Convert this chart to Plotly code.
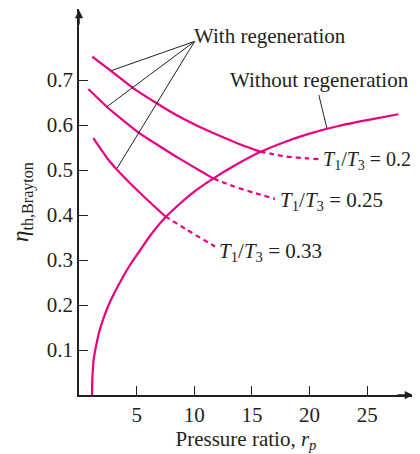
import plotly.graph_objects as go

# Pressure ratio / efficiency
rp_no_regen = [1.13, 1.14, 1.17, 1.21, 1.27, 1.34, 1.41, 1.55, 1.70, 1.9, 2.13, 2.57,
               3.15, 3.87, 4.45, 5.17, 6.2, 7.5, 8.7, 10.0, 11.7, 13.5, 15.7, 17.8,
               20.0, 22.5, 25.0, 27.7]
eta_no_regen = [0.0, 0.02, 0.042, 0.06, 0.078, 0.09, 0.10, 0.118, 0.135, 0.153, 0.171, 0.200,
                0.231, 0.265, 0.290, 0.317, 0.355, 0.395, 0.424, 0.452, 0.482, 0.510, 0.540, 0.562,
                0.581, 0.598, 0.611, 0.624]

# With regeneration, solid part (left of the crossing) and dashed part (right of it)
rp_r20_solid = [1.15, 2.8, 4.7, 6.7, 8.6, 10.3, 12.5, 14.0, 15.72]
eta_r20_solid = [0.752, 0.720, 0.682, 0.649, 0.620, 0.598, 0.573, 0.557, 0.541]
rp_r20_dash = [15.72, 16.7, 18.0, 19.8, 20.9]
eta_r20_dash = [0.541, 0.536, 0.530, 0.526, 0.524]

rp_r25_solid = [0.81, 2.48, 3.8, 5.14, 7.0, 8.61, 10.2, 11.67]
eta_r25_solid = [0.680, 0.639, 0.611, 0.584, 0.553, 0.527, 0.503, 0.481]
rp_r25_dash = [11.67, 13.4, 15.1, 17.0]
eta_r25_dash = [0.481, 0.464, 0.450, 0.436]

rp_r33_solid = [1.24, 2.55, 3.58, 5.3, 7.48]
eta_r33_solid = [0.571, 0.523, 0.493, 0.449, 0.397]
rp_r33_dash = [7.48, 9.37, 11.8]
eta_r33_dash = [0.397, 0.367, 0.330]

ratio_labels = ["0.2", "0.25", "0.33"]
ratio_label_x = [21.0, 17.3, 12.0]
ratio_label_y = [0.521, 0.432, 0.317]
ratio_label_size = [20, 21, 21]

# Leader lines: common start of the "With regeneration" pointers, and their ends
with_regen_from = (10.03, 0.786)
with_regen_to_x = [2.8, 2.43, 3.3]
with_regen_to_y = [0.721, 0.641, 0.504]
without_regen_line_x = [20.8, 21.5]
without_regen_line_y = [0.667, 0.593]

x_ticks = [5, 10, 15, 20, 25]
y_ticks = [0.1, 0.2, 0.3, 0.4, 0.5, 0.6, 0.7]

MAGENTA = "#e6007e"
INK = "#231f20"
FONT = "Liberation Serif, Times New Roman, serif"


def curve(x, y, dashed=False) -> go.Scatter:
    """One magenta line segment"""
    return go.Scatter(
        x=x,
        y=y,
        mode="lines",
        line=dict(color=MAGENTA, width=2.2, shape="spline", smoothing=0.6,
                  dash="5px,4px" if dashed else "solid"),
        hoverinfo="skip",
        showlegend=False,
    )


def make_plot() -> go.Figure:
    fig = go.Figure()

    fig.add_trace(curve(rp_no_regen, eta_no_regen))
    fig.add_trace(curve(rp_r20_solid, eta_r20_solid))
    fig.add_trace(curve(rp_r20_dash, eta_r20_dash, dashed=True))
    fig.add_trace(curve(rp_r25_solid, eta_r25_solid))
    fig.add_trace(curve(rp_r25_dash, eta_r25_dash, dashed=True))
    fig.add_trace(curve(rp_r33_solid, eta_r33_solid))
    fig.add_trace(curve(rp_r33_dash, eta_r33_dash, dashed=True))

    # Thin black pointer lines
    lx, ly = [], []
    for x, y in zip(with_regen_to_x, with_regen_to_y):
        lx += [with_regen_from[0], x, None]
        ly += [with_regen_from[1], y, None]
    lx += without_regen_line_x
    ly += without_regen_line_y
    fig.add_trace(go.Scatter(x=lx, y=ly, mode="lines",
                             line=dict(color=INK, width=1),
                             hoverinfo="skip", showlegend=False))

    text_font = dict(family=FONT, size=21, color=INK)
    annotations = [
        dict(x=with_regen_from[0] - 0.2, y=0.799, text="With regeneration",
             xanchor="left", yanchor="middle", font=text_font),
        dict(x=20.9, y=0.70, text="Without regeneration",
             xanchor="center", yanchor="middle", font=text_font),
    ]
    for label, x, y, size in zip(ratio_labels, ratio_label_x, ratio_label_y, ratio_label_size):
        annotations.append(dict(
            x=x, y=y, xanchor="left", yanchor="middle",
            text=f"<i>T</i><sub>1</sub>/<i>T</i><sub>3</sub> = {label}",
            font=dict(text_font, size=size),
        ))
    for a in annotations:
        a.update(xref="x", yref="y", showarrow=False)

    # Arrow heads at the end of both axes
    arrow = dict(xref="x", yref="y", axref="x", ayref="y", text="",
                 showarrow=True, arrowhead=2, arrowsize=1.1,
                 arrowwidth=1.5, arrowcolor=INK, standoff=0)
    annotations.append(dict(arrow, x=28.97, y=0, ax=27.5, ay=0))
    annotations.append(dict(arrow, x=0, y=0.856, ax=0, ay=0.82))

    axis_common = dict(
        showline=True,
        linecolor=INK,
        linewidth=1.5,
        showgrid=False,
        zeroline=False,
        automargin=False,
        ticks="inside",
        ticklen=9,
        tickwidth=1.2,
        tickcolor=INK,
        tickfont=dict(family=FONT, size=21, color=INK),
    )

    # The page body adds an 8px margin, so the figure is 8px smaller each way
    fig.update_layout(
        width=412,
        height=446,
        margin=dict(l=71, r=7, t=1, b=59),
        paper_bgcolor="white",
        plot_bgcolor="white",
        annotations=annotations,
        showlegend=False,
    )
    fig.update_xaxes(
        axis_common,
        range=[0, 28.97],
        tickvals=x_ticks,
        title=dict(text="Pressure ratio, <i>r<sub>p</sub></i>",
                   font=dict(family=FONT, size=21, color=INK), standoff=4),
    )
    fig.update_yaxes(
        axis_common,
        range=[0, 0.858],
        tickvals=y_ticks,
        tickformat=".1f",
        title=dict(text="<i>η</i><sub>th,Brayton</sub>",
                   font=dict(family=FONT, size=23, color=INK), standoff=14),
    )
    return fig


def main() -> None:
    fig = make_plot()
    fig.write_html("out.html")


if __name__ == "__main__":
    main()
